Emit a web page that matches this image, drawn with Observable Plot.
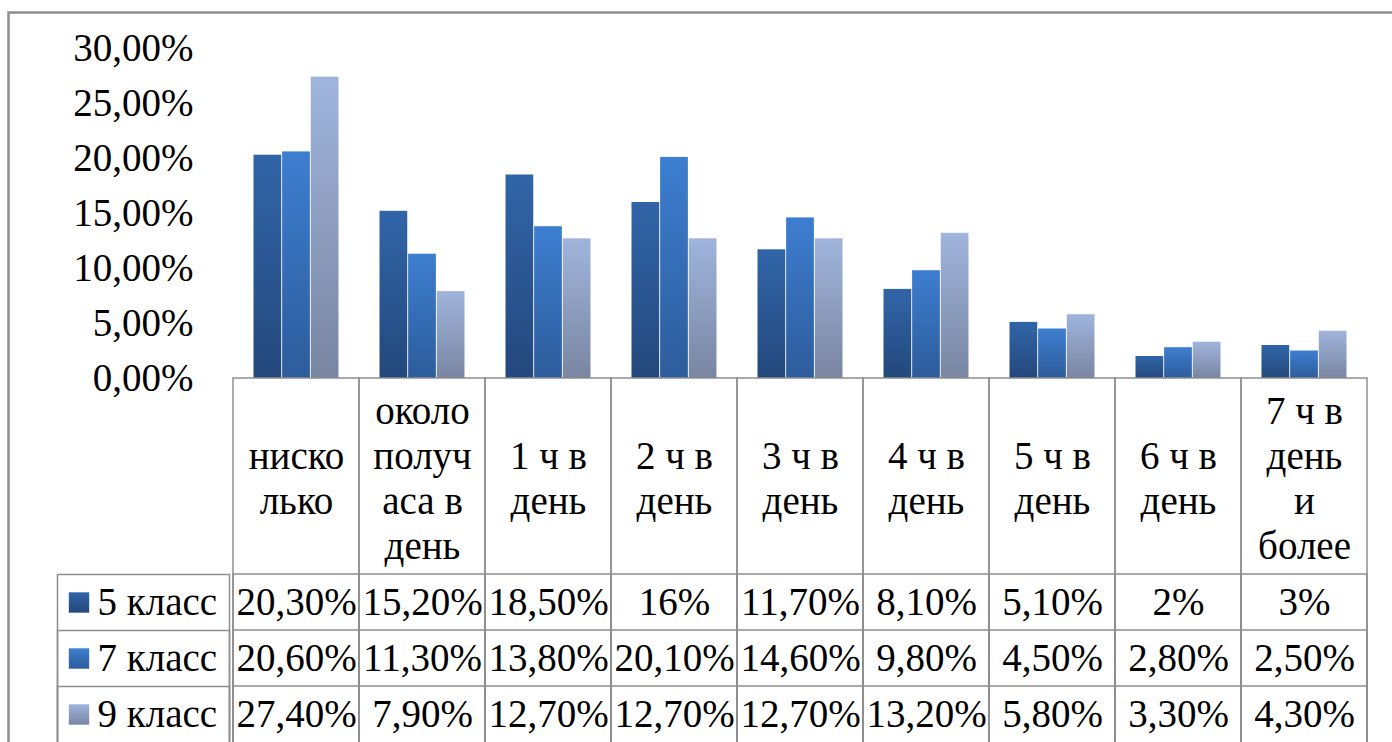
<!DOCTYPE html>
<html>
<head>
<meta charset="utf-8">
<script src="https://cdn.jsdelivr.net/npm/d3@7"></script>
<script src="https://cdn.jsdelivr.net/npm/@observablehq/plot@0.6"></script>
<style>
  html, body { margin: 0; padding: 0; background: #fff; overflow: hidden; }
  #chart svg { display: block; }
  #chart svg, #chart svg text { font-family: "Liberation Serif", "Tinos", "Times New Roman", "DejaVu Serif", serif !important; }
</style>
</head>
<body>
<div id="chart"></div>
<script>
// ---- data ----
const categories = ["нисколько", "около получаса в день", "1 ч в день", "2 ч в день", "3 ч в день", "4 ч в день", "5 ч в день", "6 ч в день", "7 ч в день и более"];
const categoryLabels = ["ниско\nлько", "около\nполуч\nаса в\nдень", "1 ч в\nдень", "2 ч в\nдень", "3 ч в\nдень", "4 ч в\nдень", "5 ч в\nдень", "6 ч в\nдень", "7 ч в\nдень\nи\nболее"];
const classes = ["5 класс", "7 класс", "9 класс"];
const class5 = [0.203, 0.152, 0.185, 0.16, 0.117, 0.081, 0.051, 0.02, 0.03];
const class7 = [0.206, 0.113, 0.138, 0.201, 0.146, 0.098, 0.045, 0.028, 0.025];
const class9 = [0.274, 0.079, 0.127, 0.127, 0.127, 0.132, 0.058, 0.033, 0.043];
const yTicks = [0, 0.05, 0.10, 0.15, 0.20, 0.25, 0.30];

// ---- style ----
const W = 1392, H = 742;
const mL = 229, mR = 21, mT = 48, mB = 364;
const plotW = W - mL - mR;
const band = plotW / categories.length;
const groupPad = 20.5;
const barW = (band - 2 * groupPad) / 3;
const gradients = [
  {id: "g5", top: "#3165a8", bottom: "#23487c"},
  {id: "g7", top: "#3d7ed0", bottom: "#2d5c9b"},
  {id: "g9", top: "#a0b4dc", bottom: "#7986a2"}
];
const lineColor = "#8e8e8e";
const fontSize = 39;
const fontFamily = "'Liberation Serif', 'Tinos', 'Times New Roman', 'DejaVu Serif', serif";

const series = [class5, class7, class9].map((vals, i) =>
  categories.map((c, j) => ({category: c, value: vals[j], cls: classes[i]})));

const fmt = v => {
  const p = Math.round(v * 10000) / 100;
  return Number.isInteger(p) ? `${p}%` : p.toFixed(2).replace(".", ",") + "%";
};
const tickFmt = v => (v * 100).toFixed(2).replace(".", ",") + "%";

const defs = () => {
  const d = d3.create("svg:defs");
  for (const g of gradients) {
    const lg = d.append("linearGradient").attr("id", g.id).attr("x1", 0).attr("y1", 0).attr("x2", 0).attr("y2", 1);
    lg.append("stop").attr("offset", "0%").attr("stop-color", g.top);
    lg.append("stop").attr("offset", "100%").attr("stop-color", g.bottom);
  }
  return d.node();
};

const below = -(H + 12 - (H - mB)); // extend cells past the bottom edge
const marks = [defs];

// outer chart border
marks.push(Plot.frame({stroke: lineColor, strokeWidth: 2.5, insetLeft: -(mL - 8), insetTop: -(mT - 12), insetRight: -40, insetBottom: below}));

// bars
series.forEach((data, i) => {
  marks.push(Plot.barY(data, {
    x: "category", y: "value", fill: `url(#${gradients[i].id})`,
    insetLeft: groupPad + barW * i,
    insetRight: band - groupPad - barW * (i + 1)
  }));
});

// data table grid (category columns)
const rowTops = [378, 574, 630, 686];
for (const t of rowTops) {
  marks.push(Plot.cell(categories, {x: d => d, fill: "none", stroke: lineColor, strokeWidth: 1.5, insetTop: t - mT, insetBottom: below}));
}
// legend column cells
for (const t of rowTops.slice(1)) {
  marks.push(Plot.frame({stroke: lineColor, strokeWidth: 1.5, insetLeft: -(mL - 57), insetRight: plotW, insetTop: t - mT, insetBottom: below}));
}

// header labels
marks.push(Plot.text(categories, {x: d => d, text: (d, i) => categoryLabels[i], frameAnchor: "bottom", lineAnchor: "middle", dy: 99, lineHeight: 1.154, fontSize, fontFamily, fill: "#000"}));

// value rows + legend
const rowDy = [224, 280, 336];
series.forEach((data, i) => {
  marks.push(Plot.text(data, {x: "category", text: d => fmt(d.value), frameAnchor: "bottom", lineAnchor: "middle", dy: rowDy[i], fontSize, fontFamily, fill: "#000"}));
  marks.push(Plot.text([classes[i]], {text: d => d, frameAnchor: "bottom-left", lineAnchor: "middle", dx: -132, dy: rowDy[i], textAnchor: "start", fontSize, fontFamily, fill: "#000"}));
  marks.push(Plot.dot([classes[i]], {frameAnchor: "bottom-left", dx: -150.5, dy: rowDy[i], symbol: "square", r: 11.5, fill: `url(#${gradients[i].id})`, stroke: "none"}));
});

// y axis
marks.push(Plot.axisY({ticks: yTicks, tickFormat: tickFmt, tickSize: 0, tickPadding: 36, line: true, label: null, stroke: lineColor, strokeWidth: 1.5, fill: "#000", fontSize, fontFamily}));

const chart = Plot.plot({
  width: W, height: H,
  marginLeft: mL, marginRight: mR, marginTop: mT, marginBottom: mB,
  style: {fontFamily, fontSize: fontSize + "px", color: "#000", background: "#fff", overflow: "visible"},
  x: {domain: categories, padding: 0, axis: null},
  y: {domain: [0, 0.30], axis: null},
  marks
});
document.getElementById("chart").appendChild(chart);
</script>
</body>
</html>
